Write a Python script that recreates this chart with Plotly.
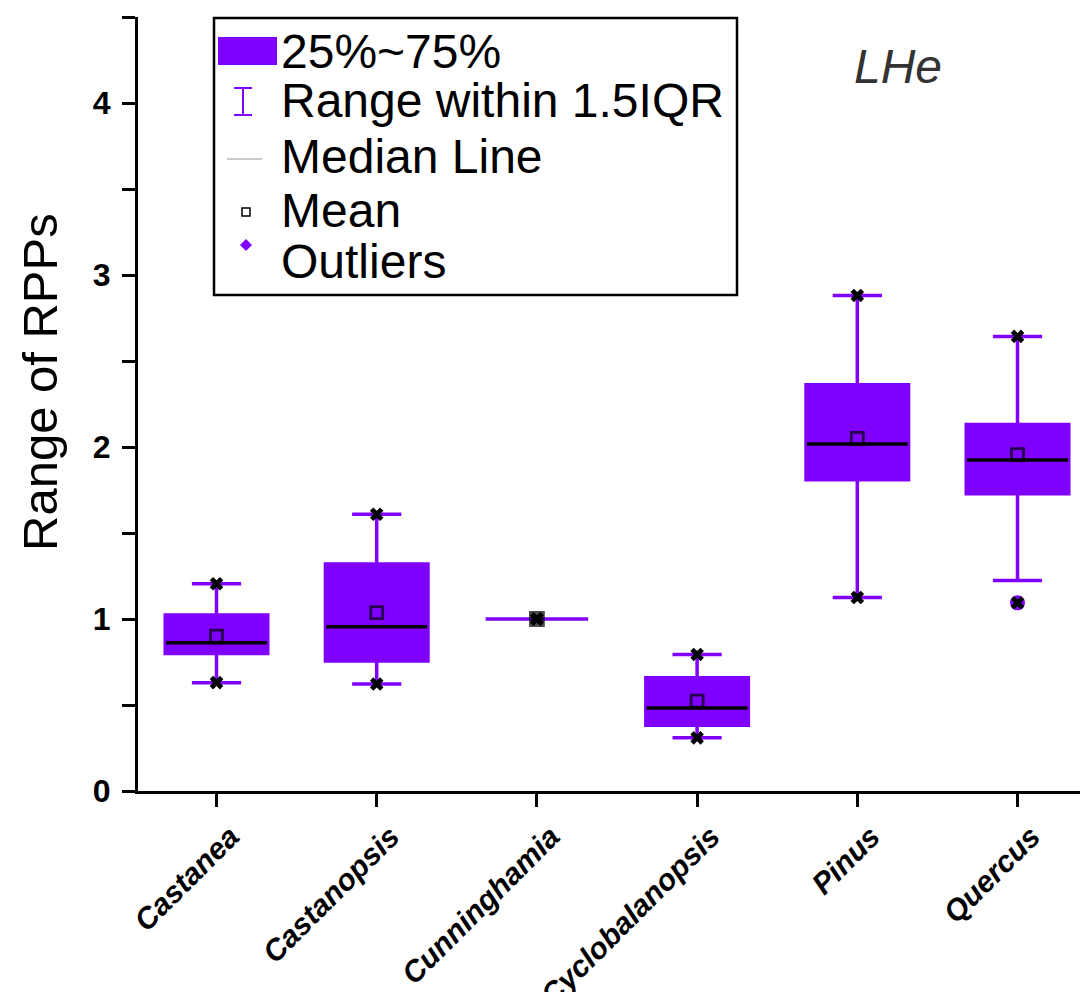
import plotly.graph_objects as go

# ---------------- data ----------------
categories = ["Castanea", "Castanopsis", "Cunninghamia", "Cyclobalanopsis", "Pinus", "Quercus"]
q1 = [0.800, 0.756, 1.000, 0.382, 1.810, 1.728]
median = [0.862, 0.955, 1.000, 0.483, 2.018, 1.924]
q3 = [1.023, 1.320, 1.000, 0.659, 2.362, 2.131]
mean = [0.900, 1.037, 1.000, 0.522, 2.050, 1.956]
whisker_low = [0.630, 0.622, 1.000, 0.309, 1.125, 1.224]
whisker_high = [1.205, 1.609, 1.000, 0.794, 2.881, 2.643]
data_min = [0.630, 0.622, 1.000, 0.309, 1.125, 1.094]
data_max = [1.205, 1.609, 1.000, 0.794, 2.881, 2.643]
outlier_cat = ["Quercus"]
outlier_val = [1.094]

y_tickvals = [0, 0.5, 1, 1.5, 2, 2.5, 3, 3.5, 4, 4.5]
y_ticktext = ["0", "", "1", "", "2", "", "3", "", "4", ""]

legend_labels = ["25%~75%", "Range within 1.5IQR", "Median Line", "Mean", "Outliers"]
panel_label = "LHe"
y_title = "Range of RPPs"

# ---------------- style ----------------
PURPLE = "#8000ff"
FONT = "Liberation Sans"
BOX_W = 0.64
MED_HALF = 0.315

BODY = 8                      # default page margin of the html body
W, H = 1088 - BODY, 992 - BODY
PL, PT, PW, PH = 138, 17, 950, 774   # plot area in screenshot pixels

def px(x):
    return (x - PL) / PW

def py(y):
    return (PT + PH - y) / PH

idx = list(range(len(categories)))
pos = {c: i for i, c in enumerate(categories)}

fig = go.Figure()

# boxes with whiskers
fig.add_trace(go.Box(
    x=idx, q1=q1, median=median, q3=q3,
    lowerfence=whisker_low, upperfence=whisker_high,
    width=BOX_W, whiskerwidth=0.48,
    fillcolor=PURPLE, line=dict(color=PURPLE, width=3.5),
    boxpoints=False, showlegend=False, hoverinfo="skip",
))

# outliers
fig.add_trace(go.Scatter(
    x=[pos[c] for c in outlier_cat], y=outlier_val, mode="markers",
    marker=dict(symbol="circle", size=15, color=PURPLE),
    showlegend=False, hoverinfo="skip",
))

# median lines (black)
mx, my = [], []
for i in idx:
    if q3[i] > q1[i]:
        mx += [i - MED_HALF, i + MED_HALF, None]
        my += [median[i], median[i], None]
fig.add_trace(go.Scatter(
    x=mx, y=my, mode="lines", line=dict(color="black", width=3.5),
    showlegend=False, hoverinfo="skip",
))

# min / max markers
fig.add_trace(go.Scatter(
    x=idx + idx, y=data_min + data_max, mode="markers",
    marker=dict(symbol="x", size=12, color="black", line=dict(width=0)),
    showlegend=False, hoverinfo="skip",
))

# mean markers
mean_sym = ["square" if q3[i] == q1[i] else "square-open" for i in idx]
mean_size = [13 if q3[i] == q1[i] else 12 for i in idx]
fig.add_trace(go.Scatter(
    x=idx, y=mean, mode="markers",
    marker=dict(symbol=mean_sym, size=mean_size, color="black",
                line=dict(width=2.8, color="black")),
    showlegend=False, hoverinfo="skip",
))

# ---------------- hand-built legend ----------------
shapes = []
shapes.append(dict(type="rect", xref="paper", yref="paper",
                   x0=px(214), x1=px(737), y0=py(295), y1=py(18),
                   line=dict(color="black", width=2.5), fillcolor="rgba(0,0,0,0)", layer="above"))
shapes.append(dict(type="rect", xref="paper", yref="paper",
                   x0=px(218), x1=px(277), y0=py(65), y1=py(37),
                   line=dict(width=0), fillcolor=PURPLE, layer="above"))
for (x0, y0, x1, y1) in [(243, 88, 243, 115), (234, 88, 252, 88), (234, 115, 252, 115)]:
    shapes.append(dict(type="line", xref="paper", yref="paper",
                       x0=px(x0), x1=px(x1), y0=py(y0), y1=py(y1),
                       line=dict(color=PURPLE, width=2), layer="above"))
shapes.append(dict(type="line", xref="paper", yref="paper",
                   x0=px(227), x1=px(262), y0=py(159), y1=py(159),
                   line=dict(color="#b8b8b8", width=1.5), layer="above"))
shapes.append(dict(type="rect", xref="paper", yref="paper",
                   x0=px(242), x1=px(250), y0=py(216), y1=py(208),
                   line=dict(color="black", width=1.5), fillcolor="white", layer="above"))
cx, cy, r = 246, 245, 6
path = "M {} {} L {} {} L {} {} L {} {} Z".format(
    px(cx), py(cy - r), px(cx + r), py(cy), px(cx), py(cy + r), px(cx - r), py(cy))
shapes.append(dict(type="path", xref="paper", yref="paper", path=path,
                   line=dict(width=0), fillcolor=PURPLE, layer="above"))

annotations = []
for lab, yc in zip(legend_labels, [51, 101, 157, 210, 261]):
    annotations.append(dict(text=lab, xref="paper", yref="paper",
                            x=px(279), y=py(yc), xanchor="left", yanchor="middle",
                            showarrow=False, font=dict(family=FONT, size=48, color="black")))

annotations.append(dict(text=panel_label, xref="paper", yref="paper",
                        x=px(898), y=py(66), xanchor="center", yanchor="middle",
                        showarrow=False,
                        font=dict(family=FONT, size=48, color="#333333", style="italic")))

annotations.append(dict(text=y_title, xref="paper", yref="paper",
                        x=px(40), y=py(382), xanchor="center", yanchor="middle",
                        textangle=-90, showarrow=False,
                        font=dict(family=FONT, size=49, color="black")))

fig.update_layout(
    width=W, height=H,
    margin=dict(l=PL - BODY, r=W - (PL - BODY) - PW, t=PT - BODY,
                b=H - (PT - BODY) - PH, pad=0, autoexpand=False),
    paper_bgcolor="white", plot_bgcolor="white",
    showlegend=False,
    shapes=shapes, annotations=annotations,
    xaxis=dict(
        range=[-0.49, 5.44], tickmode="array", tickvals=idx, ticktext=categories,
        tickangle=-45, showline=True, linecolor="black", linewidth=3,
        ticks="outside", ticklen=13, tickwidth=3, tickcolor="black",
        ticklabelstandoff=0, ticklabelshift=14,
        showgrid=False, zeroline=False, automargin=False,
        tickfont=dict(family=FONT, size=30, color="black", weight="bold", style="italic"),
    ),
    yaxis=dict(
        range=[0, 4.5], tickmode="array", tickvals=y_tickvals, ticktext=y_ticktext,
        showline=True, linecolor="black", linewidth=3,
        ticks="outside", ticklen=13, tickwidth=3, tickcolor="black",
        ticklabelstandoff=5, automargin=False,
        showgrid=False, zeroline=False,
        tickfont=dict(family=FONT, size=32, color="black", weight="bold"),
    ),
)

fig.write_html("out.html")
